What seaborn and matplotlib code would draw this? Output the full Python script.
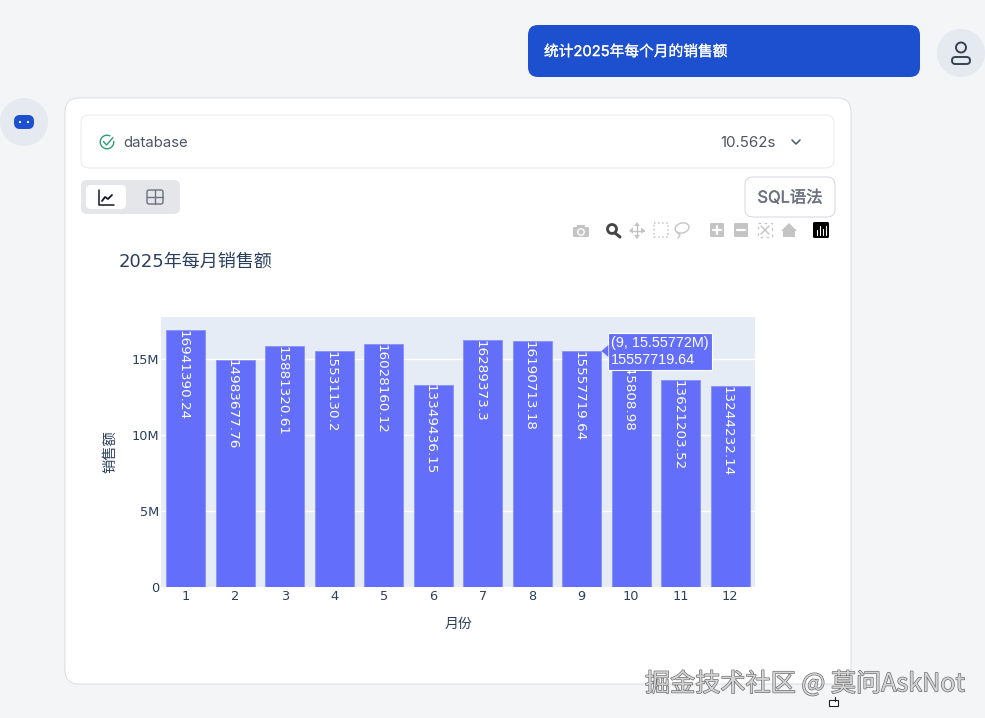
import pandas as pd
import matplotlib
matplotlib.use('Agg')
import matplotlib.pyplot as plt
import matplotlib.patheffects as pe
from matplotlib.patches import FancyBboxPatch, Circle, Polygon, Rectangle, Ellipse, Arc
from matplotlib.ticker import FuncFormatter
import seaborn as sns

# 数据
months = [1, 2, 3, 4, 5, 6, 7, 8, 9, 10, 11, 12]
sales = [16941390.24, 14983677.76, 15881320.61, 15531130.2, 16028160.12, 13349436.15,
         16289373.3, 16190713.18, 15557719.64, 16145808.98, 13621203.52, 13244232.14]
y_ticks = [0, 5000000, 10000000, 15000000]
y_tick_labels = ['0', '5M', '10M', '15M']
hover_month = 9

W, H = 985, 718
BG = '#f3f5f7'
INK = '#2a3f5f'
BAR = '#636efa'

sns.set_theme(style='darkgrid', rc={
    'axes.facecolor': '#e5ecf6',
    'grid.color': 'white',
    'grid.linewidth': 1,
    'figure.facecolor': BG,
    'patch.edgecolor': 'none',
})
plt.rcParams['font.family'] = ['DejaVu Sans', 'Noto Sans CJK SC']
UI_FONT = ['Inter', 'Noto Sans CJK SC']

fig = plt.figure(figsize=(W / 100, H / 100), dpi=100)


def full_axes(z):
    a = fig.add_axes([0, 0, 1, 1], zorder=z)
    a.set_xlim(0, W)
    a.set_ylim(H, 0)
    a.axis('off')
    return a


def rbox(a, x0, y0, x1, y1, r, fc, ec='none', lw=0.7, z=1):
    a.add_patch(FancyBboxPatch((x0 + r, y0 + r), x1 - x0 - 2 * r, y1 - y0 - 2 * r,
                               boxstyle=f'round,pad={r},rounding_size={r}',
                               fc=fc, ec=ec, lw=lw, zorder=z))


# 页面外框
ui = full_axes(0)
rbox(ui, 528, 25, 920, 77, 10, '#1d50cf')
ui.text(544, 52, '统计2025年每个月的销售额', color='white', fontsize=10.6, family=UI_FONT, va='center',
        path_effects=[pe.withStroke(linewidth=0.2, foreground='white')])
ui.add_patch(Circle((961, 53), 24, fc='#e5e9f0', ec='none'))
ui.add_patch(Circle((961, 47.5), 5, fc='none', ec='#374151', lw=1.4))
rbox(ui, 952, 57, 970, 64, 3.5, 'none', '#374151', 1.4)
ui.add_patch(Circle((24, 122), 24, fc='#e5e9f0', ec='none'))
rbox(ui, 14, 115, 34, 129, 6, '#1d50cf')
ui.add_patch(Circle((20, 122), 1.1, fc='white', ec='none', zorder=2))
ui.add_patch(Circle((28, 122), 1.1, fc='white', ec='none', zorder=2))

rbox(ui, 65, 98, 851, 684, 14, 'white', '#d5d9df', 0.6)
rbox(ui, 81, 115, 834, 168, 8, 'white', '#e5e7eb', 0.6)
ui.add_patch(Arc((107, 142), 13.5, 13.5, theta1=-10, theta2=300, ec='#2f9e6e', lw=1))
ui.plot([103.5, 106.5, 113], [141.5, 145, 137.5], color='#2f9e6e', lw=1)
ui.text(123, 143, 'database', color='#4b5563', fontsize=10.7, family=UI_FONT, va='center')
ui.text(776, 143, '10.562s', color='#4b5563', fontsize=10.9, family=UI_FONT, va='center', ha='right')
ui.plot([792, 796, 800], [140, 144, 140], color='#4b5563', lw=1.1)

rbox(ui, 81, 180, 180, 214, 6, '#e4e6ea')
rbox(ui, 86, 185, 126, 209, 5, 'white', z=2)
ui.plot([99, 99, 114], [190, 205, 205], color='#111827', lw=1.1, zorder=3)
ui.plot([102, 105, 108, 112], [201, 197, 199, 195], color='#111827', lw=1.3, zorder=3)
rbox(ui, 147, 190, 163, 204, 2, 'none', '#6b7280', 1, z=3)
ui.plot([147, 163], [197, 197], color='#6b7280', lw=1, zorder=3)
ui.plot([155, 155], [190, 204], color='#6b7280', lw=1, zorder=3)

rbox(ui, 745, 177, 835, 217, 8, 'white', '#ccd0d8', 0.6)
ui.text(790, 198, 'SQL语法', color='#6b7280', fontsize=11.8, family=UI_FONT, va='center', ha='center',
        path_effects=[pe.withStroke(linewidth=0.3, foreground='#6b7280')])

# plotly 工具栏图标
GREY = '#c4c4c4'
rbox(ui, 573, 227, 589, 237, 1.5, GREY)
ui.add_patch(Rectangle((577, 225), 8, 3, fc=GREY, ec='none'))
ui.add_patch(Circle((581, 232), 3.2, fc=GREY, ec='white', lw=1, zorder=2))
ui.add_patch(Circle((612, 229), 4.5, fc='none', ec='#444444', lw=2))
ui.plot([615, 620], [233, 237], color='#444444', lw=2.2)
ui.plot([637, 637], [224, 237], color=GREY, lw=1)
ui.plot([630, 644], [230.5, 230.5], color=GREY, lw=1)
for arrow in ([[637, 222], [634, 226], [640, 226]], [[637, 239], [634, 235], [640, 235]],
              [[629, 230.5], [633, 227.5], [633, 233.5]], [[645, 230.5], [641, 227.5], [641, 233.5]]):
    ui.add_patch(Polygon(arrow, fc=GREY, ec='none'))
ui.add_patch(Rectangle((654, 223), 14, 14, fc='none', ec=GREY, ls=':', lw=1.1))
ui.add_patch(Ellipse((682, 228), 14, 10, angle=-15, fc='none', ec=GREY, lw=1))
ui.plot([677, 680, 678], [232, 235, 238], color=GREY, lw=1)
rbox(ui, 710, 223, 724, 237, 1, GREY)
ui.plot([713, 721], [230, 230], color='white', lw=1.6, zorder=2)
ui.plot([717, 717], [226, 234], color='white', lw=1.6, zorder=2)
rbox(ui, 734, 223, 748, 237, 1, GREY)
ui.plot([737, 745], [230, 230], color='white', lw=1.6, zorder=2)
ui.add_patch(Rectangle((758, 223), 14, 14, fc='none', ec=GREY, ls=(0, (2, 3)), lw=0.9))
ui.plot([761, 769], [226, 234], color=GREY, lw=1)
ui.plot([761, 769], [234, 226], color=GREY, lw=1)
ui.add_patch(Polygon([[781, 231], [789, 223], [797, 231], [795, 231], [795, 237], [783, 237], [783, 231]],
                     fc=GREY, ec='none'))
rbox(ui, 813, 222, 829, 238, 1.5, 'black')
for bx, bar_top in [(817, 230), (820, 226), (823, 229), (826, 226)]:
    ui.plot([bx, bx], [bar_top, 235], color='white', lw=0.8, zorder=2)

ui.text(119, 262, '2025年每月销售额', color=INK, fontsize=13, va='center')

# 柱状图
df = pd.DataFrame({'月份': months, '销售额': sales})
ax = fig.add_axes([161 / W, 1 - 587 / H, (755 - 161) / W, (587 - 317) / H], zorder=1)
sns.barplot(data=df, x='月份', y='销售额', color=BAR, saturation=1, width=0.785,
            edgecolor='#8d95f8', linewidth=0.7, ax=ax)
ax.set_xlim(-0.5, 11.5)
ax.set_ylim(0, 17.8e6)
ax.set_yticks(y_ticks)
ax.yaxis.set_major_formatter(FuncFormatter(lambda v, _: y_tick_labels[y_ticks.index(int(v))]))
ax.xaxis.grid(False)
ax.set_axisbelow(True)
ax.tick_params(axis='y', length=0, labelsize=9.3, labelcolor=INK, pad=1.5)
ax.tick_params(axis='x', length=0, labelsize=9.3, labelcolor=INK, pad=2.5)
for side in ax.spines.values():
    side.set_visible(False)
ax.set_xlabel('月份', fontsize=10, color=INK)
ax.set_ylabel('销售额', fontsize=10.3, color=INK)
ax.xaxis.set_label_coords(0.5, -0.11)
ax.yaxis.set_label_coords(-0.074, 0.5)
bar_texts = ax.bar_label(ax.containers[0], labels=[str(v) for v in sales], label_type='edge', padding=0,
                         rotation=-90, color='white', fontsize=9.7)
for t in bar_texts:
    t.set_va('top')
    t.set_ha('center')
    t.set_position((-2.0, 0.2))

# 悬停提示框
top = full_axes(2)
i = months.index(hover_month)
px, py = ax.transData.transform((i + 0.4, sales[i]))
tx, ty = fig.transFigure.inverted().transform((px, py))
tip_x, tip_y = tx * W, (1 - ty) * H
box_x0, box_x1 = tip_x + 6, tip_x + 110
box_y0, box_y1 = tip_y - 18, tip_y + 19
top.add_patch(Rectangle((box_x0, box_y0), box_x1 - box_x0, box_y1 - box_y0, fc=BAR, ec='white', lw=0.8))
top.add_patch(Polygon([[tip_x, tip_y], [box_x0 + 0.8, tip_y - 6], [box_x0 + 0.8, tip_y + 6]], fc=BAR, ec='none', zorder=3))
top.text(box_x0 + 3, tip_y - 8, f'({hover_month}, {sales[i] / 1e6:.5f}M)', color='white',
         fontsize=10.4, family='Liberation Sans', va='center', zorder=4)
top.text(box_x0 + 3, tip_y + 9, str(sales[i]), color='white', fontsize=10.4,
         family='Liberation Sans', va='center', zorder=4)

# 水印
top.text(645, 684, '掘金技术社区 @ 莫问AskNot', color='#d4d4d4', fontsize=18.1,
         family=['Noto Sans CJK SC', 'DejaVu Sans'], va='center',
         path_effects=[pe.withStroke(linewidth=0.9, foreground='#666666')], zorder=5)
top.add_patch(Rectangle((829, 700), 9, 6, fc='white', ec='#222222', lw=0.8, zorder=5))
top.plot([835, 835], [697, 701], color='#222222', lw=0.8, zorder=6)

fig.savefig('out.png', dpi=100, facecolor=BG)
